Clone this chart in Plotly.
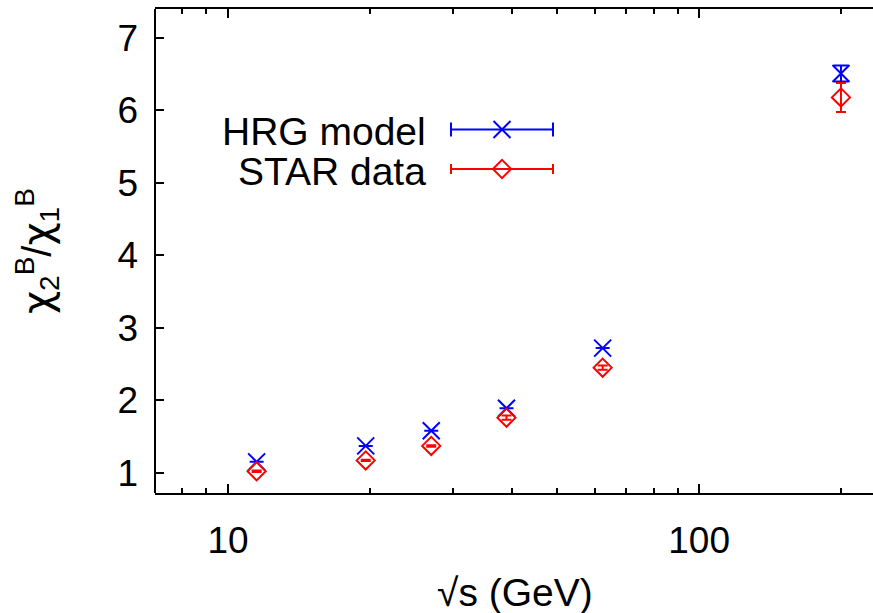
import plotly.graph_objects as go

# Data
energies = [11.5, 19.6, 27, 39, 62.4, 200]
hrg_vals = [1.15, 1.37, 1.58, 1.89, 2.72, 6.51]
hrg_errs = [0, 0, 0, 0, 0, 0.11]
star_vals = [1.02, 1.17, 1.37, 1.76, 2.45, 6.18]
star_errs = [0.01, 0.01, 0.01, 0.03, 0.03, 0.2]
series_names = ["HRG model", "STAR data"]

x_major = [10, 100]
x_minor = [7, 8, 9, 20, 30, 40, 50, 60, 70, 80, 90, 200]
y_ticks = [1, 2, 3, 4, 5, 6, 7]

FONT = "Liberation Sans, Arial, Helvetica, sans-serif"
FS = 37
FS_T = 39
BLUE = "#0000ff"
RED = "#ff0000"

fig = go.Figure()

fig.add_trace(go.Scatter(
    x=energies, y=hrg_vals, mode="markers", name=series_names[0],
    marker=dict(symbol="x-thin", size=17, line=dict(color=BLUE, width=2), color=BLUE),
    error_y=dict(type="data", array=hrg_errs, color=BLUE, thickness=2, width=7),
    showlegend=False,
))
fig.add_trace(go.Scatter(
    x=energies, y=star_vals, mode="markers", name=series_names[1],
    marker=dict(symbol="diamond-open", size=14, line=dict(color=RED, width=2), color=RED),
    error_y=dict(type="data", array=star_errs, color=RED, thickness=2, width=5),
    showlegend=False,
))

# Manual key (gnuplot-style samples with horizontal error bars)
L, R, T, B = 155, 0, 9, 120
PW = 873 - L - R
PH = 613 - T - B
def px(xp):
    return (xp - L) / PW
def py(yp):
    return (613 - B - yp) / PH

key_rows = [(series_names[0], 129.5, BLUE, "x-thin", 17, 7),
            (series_names[1], 169, RED, "diamond-open", 14, 5)]
for name, ypix, col, sym, sz, cw in key_rows:
    fig.add_trace(go.Scatter(
        x=[px(502)], y=[py(ypix)], xaxis="x2", yaxis="y2", mode="markers",
        marker=dict(symbol=sym, size=sz, line=dict(color=col, width=2), color=col),
        error_x=dict(type="constant", value=51 / PW, color=col, thickness=2, width=cw),
        showlegend=False, hoverinfo="skip",
    ))
    fig.add_annotation(
        x=px(428), y=py(ypix + 2), xref="paper", yref="paper",
        text=name, showarrow=False, xanchor="right", yanchor="middle",
        font=dict(family=FONT, size=FS_T, color="black"),
    )

# axis titles
CHI = '<span style="font-family:DejaVu Sans">χ</span>'
fig.add_annotation(
    x=px(37), y=py(251), xref="paper", yref="paper", textangle=-90,
    text=f"{CHI}<sub>2</sub><sup>B</sup>/{CHI}<sub>1</sub><sup>B</sup>",
    showarrow=False, xanchor="center", yanchor="middle",
    font=dict(family=FONT, size=40, color="black"),
)
fig.add_annotation(
    x=px(515), y=py(592), xref="paper", yref="paper",
    text="√s (GeV)", showarrow=False, xanchor="center", yanchor="middle",
    font=dict(family=FONT, size=FS_T, color="black"),
)

# left border line
fig.add_shape(type="line", xref="paper", yref="paper", x0=0, x1=0, y0=0, y1=1,
              line=dict(color="black", width=2))

fig.update_layout(
    width=873, height=613,
    margin=dict(l=L, r=R, t=T, b=B, autoexpand=False),
    paper_bgcolor="white", plot_bgcolor="white",
    font=dict(family=FONT, size=FS, color="black"),
    xaxis=dict(
        type="log", range=[0.845, 2.369], automargin=False,
        tickmode="array", tickvals=x_major, ticktext=[str(v) for v in x_major],
        ticks="inside", ticklen=9, tickwidth=1.5, tickcolor="black",
        minor=dict(tickmode="array", tickvals=x_minor, ticks="inside", ticklen=5,
                   tickwidth=1.5, tickcolor="black", showgrid=False),
        showline=True, linecolor="black", linewidth=2, mirror="allticks",
        showgrid=False, zeroline=False,
        tickfont=dict(family=FONT, size=FS),
        ticklabelstandoff=14,
    ),
    yaxis=dict(
        range=[0.72, 7.4], automargin=False,
        tickmode="array", tickvals=y_ticks, ticktext=[str(v) for v in y_ticks],
        ticks="inside", ticklen=9, tickwidth=1.5, tickcolor="black",
        showline=False, mirror=False,
        showgrid=False, zeroline=False,
        tickfont=dict(family=FONT, size=FS),
        ticklabelstandoff=16,
    ),
    yaxis3=dict(
        overlaying="y", side="right", range=[0.72, 7.4], automargin=False,
        tickmode="array", tickvals=y_ticks, showticklabels=False,
        ticks="inside", ticklen=9, tickwidth=1.5, tickcolor="black",
        showline=False, showgrid=False, zeroline=False, fixedrange=True,
    ),
    xaxis2=dict(overlaying="x", range=[0, 1], visible=False, fixedrange=True),
    yaxis2=dict(overlaying="y", range=[0, 1], visible=False, fixedrange=True),
)

fig.write_html(
    "out.html",
    config={"displayModeBar": False},
    post_script="document.body.style.margin='0';document.body.style.overflow='hidden';",
)
